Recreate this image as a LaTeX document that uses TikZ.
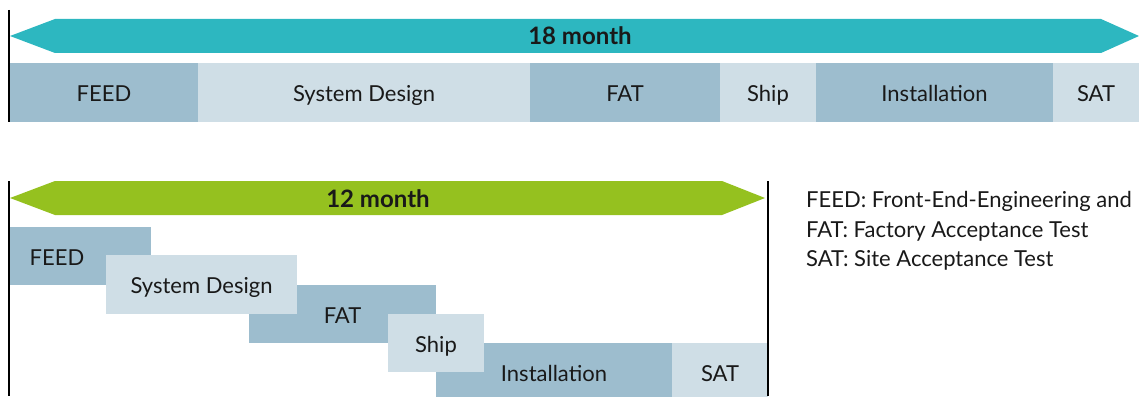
\documentclass[tikz,border=0pt]{standalone}
\usepackage{fontspec}
\setmainfont{Lato}
\definecolor{darkb}{HTML}{9DBDCE}
\definecolor{lightb}{HTML}{CFDEE6}
\definecolor{teal18}{HTML}{2DB7C0}
\definecolor{green12}{HTML}{95C11F}
\begin{document}
\begin{tikzpicture}[x=1pt,y=-1pt,
  txt/.style={font=\fontsize{22}{26}\selectfont,text=black!90,text height=19pt,text depth=1pt},
  box/.style={txt,anchor=north west,inner sep=0pt,outer sep=0pt},
  darkbox/.style={box,fill=darkb},
  lightbox/.style={box,fill=lightb},
  title/.style={font=\fontsize{24}{28}\selectfont\bfseries,text=black!90,text height=19pt,text depth=1pt,inner sep=0pt},
  axis/.style={line width=2pt,black},
  legend/.style={txt,anchor=west,inner sep=0pt}]
\useasboundingbox (0,0) rectangle (1139,396);
\clip (0,0) rectangle (1139,396);
% top chart
\fill[teal18] (10,36) -- (55,19) -- (1101,19) -- (1139,36) -- (1101,53) -- (55,53) -- cycle;
\node[title] (m18) at (580,36) {18 month};
\node[darkbox,minimum width=188,minimum height=59] (t1) at (10,63) {FEED};
\node[lightbox,minimum width=332,minimum height=59] (t2) at (198,63) {System Design};
\node[darkbox,minimum width=190,minimum height=59] (t3) at (530,63) {FAT};
\node[lightbox,minimum width=96,minimum height=59] (t4) at (720,63) {Ship};
\node[darkbox,minimum width=237,minimum height=59] (t5) at (816,63) {Installation};
\node[lightbox,minimum width=86,minimum height=59] (t6) at (1053,63) {SAT};
\coordinate (ta) at (9,10);
\coordinate (tb) at (9,122);
\draw[axis] (ta) -- (tb);
% bottom chart
\fill[green12] (10,198) -- (55,181) -- (722,181) -- (765,198) -- (722,215) -- (55,215) -- cycle;
\node[title] (m12) at (378,198) {12 month};
\begin{scope}
\clip (9,0) rectangle (1139,396);
\node[darkbox,minimum width=188,minimum height=58] (b1) at (-37,227) {FEED};
\end{scope}
\node[darkbox,minimum width=187,minimum height=58] (b3) at (249,285) {FAT};
\node[darkbox,minimum width=236,minimum height=58] (b5) at (436,343) {Installation};
\node[lightbox,minimum width=191,minimum height=59] (b2) at (106,255) {System Design};
\node[lightbox,minimum width=96,minimum height=58] (b4) at (388,314) {Ship};
\node[lightbox,minimum width=96,minimum height=58] (b6) at (672,343) {SAT};
\coordinate (la) at (9,181);
\coordinate (lb) at (9,396);
\coordinate (ra) at (768,181);
\coordinate (rb) at (768,396);
\draw[axis] (la) -- (lb);
\draw[axis] (ra) -- (rb);
% legend
\node[legend] (l1) at (806,198) {FEED: Front-End-Engineering and};
\node[legend] (l2) at (806,228) {FAT: Factory Acceptance Test};
\node[legend] (l3) at (806,257) {SAT: Site Acceptance Test};
\end{tikzpicture}
\end{document}
